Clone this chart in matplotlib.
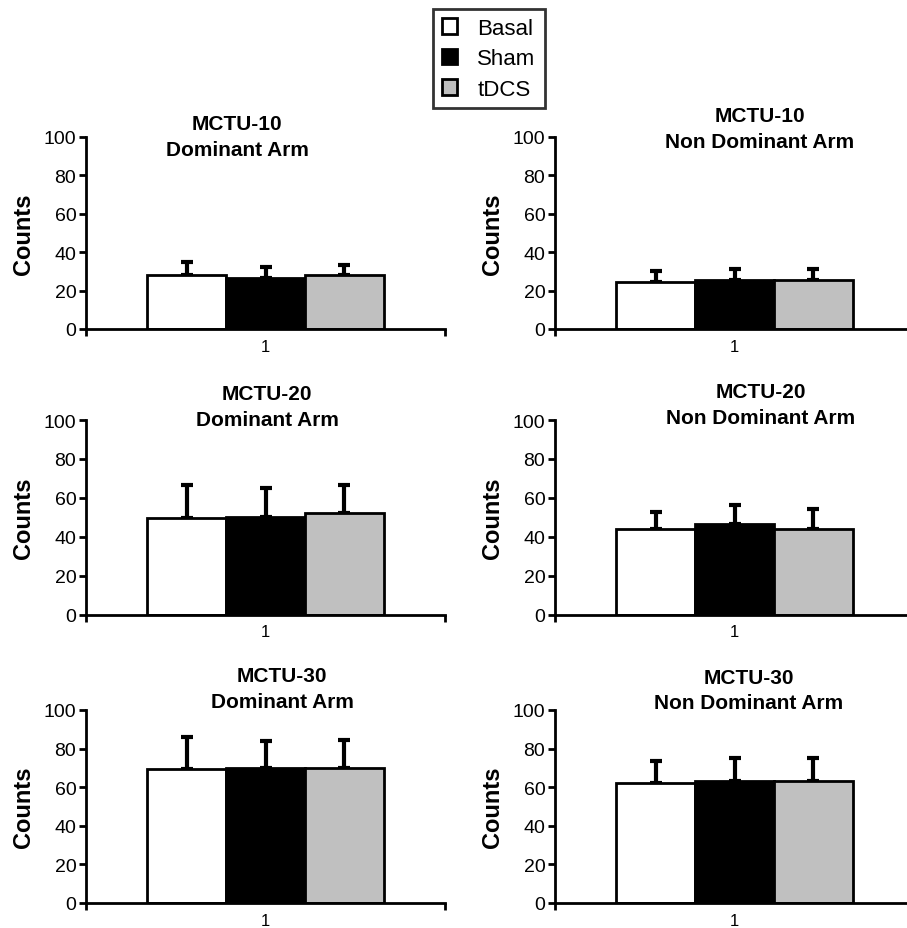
import numpy as np
import matplotlib
matplotlib.use("Agg")
from matplotlib import pyplot as plt
from matplotlib.patches import Patch

plt.rcParams['font.family'] = ['Liberation Sans', 'DejaVu Sans']

# Daten
groups = ["Basal", "Sham", "tDCS"]
titles = ["MCTU-10\nDominant Arm", "MCTU-10\nNon Dominant Arm",
          "MCTU-20\nDominant Arm", "MCTU-20\nNon Dominant Arm",
          "MCTU-30\nDominant Arm", "MCTU-30\nNon Dominant Arm"]
basal = [28, 24.5, 49.5, 44, 69.5, 62]
sham = [26.5, 25.5, 50.3, 46.5, 70, 63]
tdcs = [28, 25.5, 52, 44, 69.7, 63]
basal_err = [7, 5.5, 17, 8.7, 16.7, 11.5]
sham_err = [5.7, 6, 14.5, 10, 13.7, 12.3]
tdcs_err = [5.3, 5.5, 14.6, 10, 15, 12.3]
yticks = [0, 20, 40, 60, 80, 100]

colors = ["white", "black", "#c0c0c0"]

W, H = 907, 929
fig = plt.figure(figsize=(W / 100, H / 100), dpi=100)

# Achsenpositionen in Pixel: (links, y fuer 100, y fuer 0)
lefts = [86, 555]
rows = [(138, 330), (421, 615.5), (711, 904)]
axw = 359
title_pos = [(237, 125), (760, 117), (267, 395), (761, 392), (282, 677), (749, 678)]

for i in range(6):
    r, c = i // 2, i % 2
    top, bot = rows[r]
    ax = fig.add_axes([lefts[c] / W, 1 - bot / H, axw / W, (bot - top) / H])
    vals = [basal[i], sham[i], tdcs[i]]
    errs = [basal_err[i], sham_err[i], tdcs_err[i]]
    xs = 1 + np.array([-0.22, 0, 0.22])
    ax.bar(xs, vals, width=0.22, color=colors, edgecolor="black", linewidth=2, zorder=2)
    ax.errorbar(xs, vals, yerr=[np.zeros(3), errs], fmt="none", ecolor="black",
                elinewidth=3, capsize=4, capthick=3, zorder=1)
    ax.set_xlim(0.5, 1.5)
    ax.set_ylim(0, 100)
    ax.set_yticks(yticks)
    ax.set_xticks([1])
    ax.set_xticklabels(["1"], fontsize=12)
    ax.set_xticks([0.5, 1.5], minor=True)
    ax.tick_params(axis="x", which="major", length=0, pad=7)
    ax.tick_params(axis="x", which="minor", length=5, width=2, direction="out")
    ax.tick_params(axis="y", length=5, width=2, labelsize=14, pad=2)
    for s in ["top", "right"]:
        ax.spines[s].set_visible(False)
    ax.spines["left"].set_linewidth(2)
    ax.spines["bottom"].set_linewidth(2)
    ax.set_ylabel("Counts", fontsize=17, fontweight="bold", labelpad=6)
    tx, ty = title_pos[i]
    fig.text(tx / W, 1 - ty / H, titles[i].split("\n")[0], ha="center", va="center",
             fontsize=15, fontweight="bold")
    fig.text(tx / W, 1 - (ty + 26) / H, titles[i].split("\n")[1], ha="center", va="center",
             fontsize=15, fontweight="bold")

handles = [Patch(facecolor=colors[k], edgecolor="black", linewidth=2) for k in range(3)]
leg = fig.legend(handles, groups, loc="upper left", bbox_to_anchor=(433 / W, 1 - 10 / H),
                 fontsize=16, frameon=True, fancybox=False, edgecolor="black",
                 handlelength=0.7, handleheight=0.7, handletextpad=0.9,
                 borderpad=0.4, labelspacing=0.42, borderaxespad=0)
leg.get_frame().set_linewidth(2)

fig.savefig("out.png", dpi=100)
